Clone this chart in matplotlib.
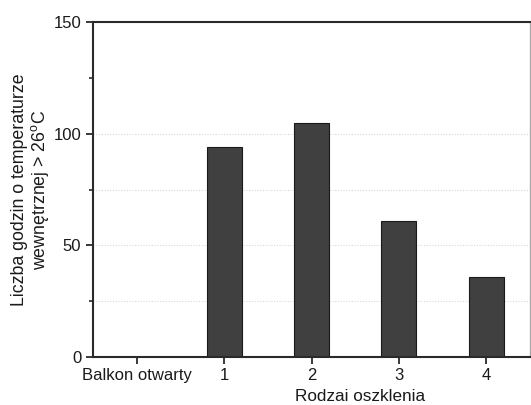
import matplotlib
matplotlib.use("Agg")
import matplotlib.pyplot as plt
from matplotlib.ticker import MultipleLocator

plt.rcParams['font.family'] = ['Liberation Sans', 'DejaVu Sans']
plt.rcParams['mathtext.fontset'] = 'custom'
plt.rcParams['mathtext.rm'] = 'Liberation Sans'

categories = ["Balkon otwarty", "1", "2", "3", "4"]
values = [0, 94, 105, 61, 36]
y_ticks = [0, 50, 100, 150]
grid_levels = [25, 50, 75, 100]

fig = plt.figure(figsize=(5.31, 4.05), dpi=100)
ax = fig.add_axes([93/531, 48/405, 437/531, 335/405])

x = list(range(len(categories)))
for g in grid_levels:
    ax.axhline(g, color='#d8d8d8', lw=0.8, ls=(0, (1, 1.5)), zorder=0)
ax.bar(x, values, width=0.4, color='#404040', edgecolor='#1a1a1a', linewidth=0.8, zorder=2)

ax.set_xlim(-0.5, 4.5)
ax.set_ylim(0, 150)
ax.set_xticks(x)
ax.set_xticklabels(categories)
ax.set_yticks(y_ticks)
ax.yaxis.set_minor_locator(MultipleLocator(25))

for s in ['left', 'bottom', 'top']:
    ax.spines[s].set_linewidth(1.5)
    ax.spines[s].set_color('#2a2a2a')
ax.spines['right'].set_linewidth(1.0)
ax.spines['right'].set_color('#aaaaaa')

ax.tick_params(axis='both', which='major', direction='out', length=5, width=1.3,
               color='#2a2a2a', labelsize=12, labelcolor='#1a1a1a')
ax.tick_params(axis='y', which='minor', direction='out', length=3, width=1.2, color='#2a2a2a')
ax.tick_params(axis='x', pad=3)

ax.set_ylabel("Liczba godzin o temperaturze\nwewnętrznej > 26$^{\\rm o}$C", fontsize=12.8,
              color='#1a1a1a', linespacing=1.1)
ax.yaxis.set_label_coords(-0.095, 0.5)
ax.set_xlabel("Rodzai oszklenia", fontsize=12.3, color='#1a1a1a')
ax.xaxis.set_label_coords(0.611, -0.095)

fig.savefig("out.png", dpi=100)
